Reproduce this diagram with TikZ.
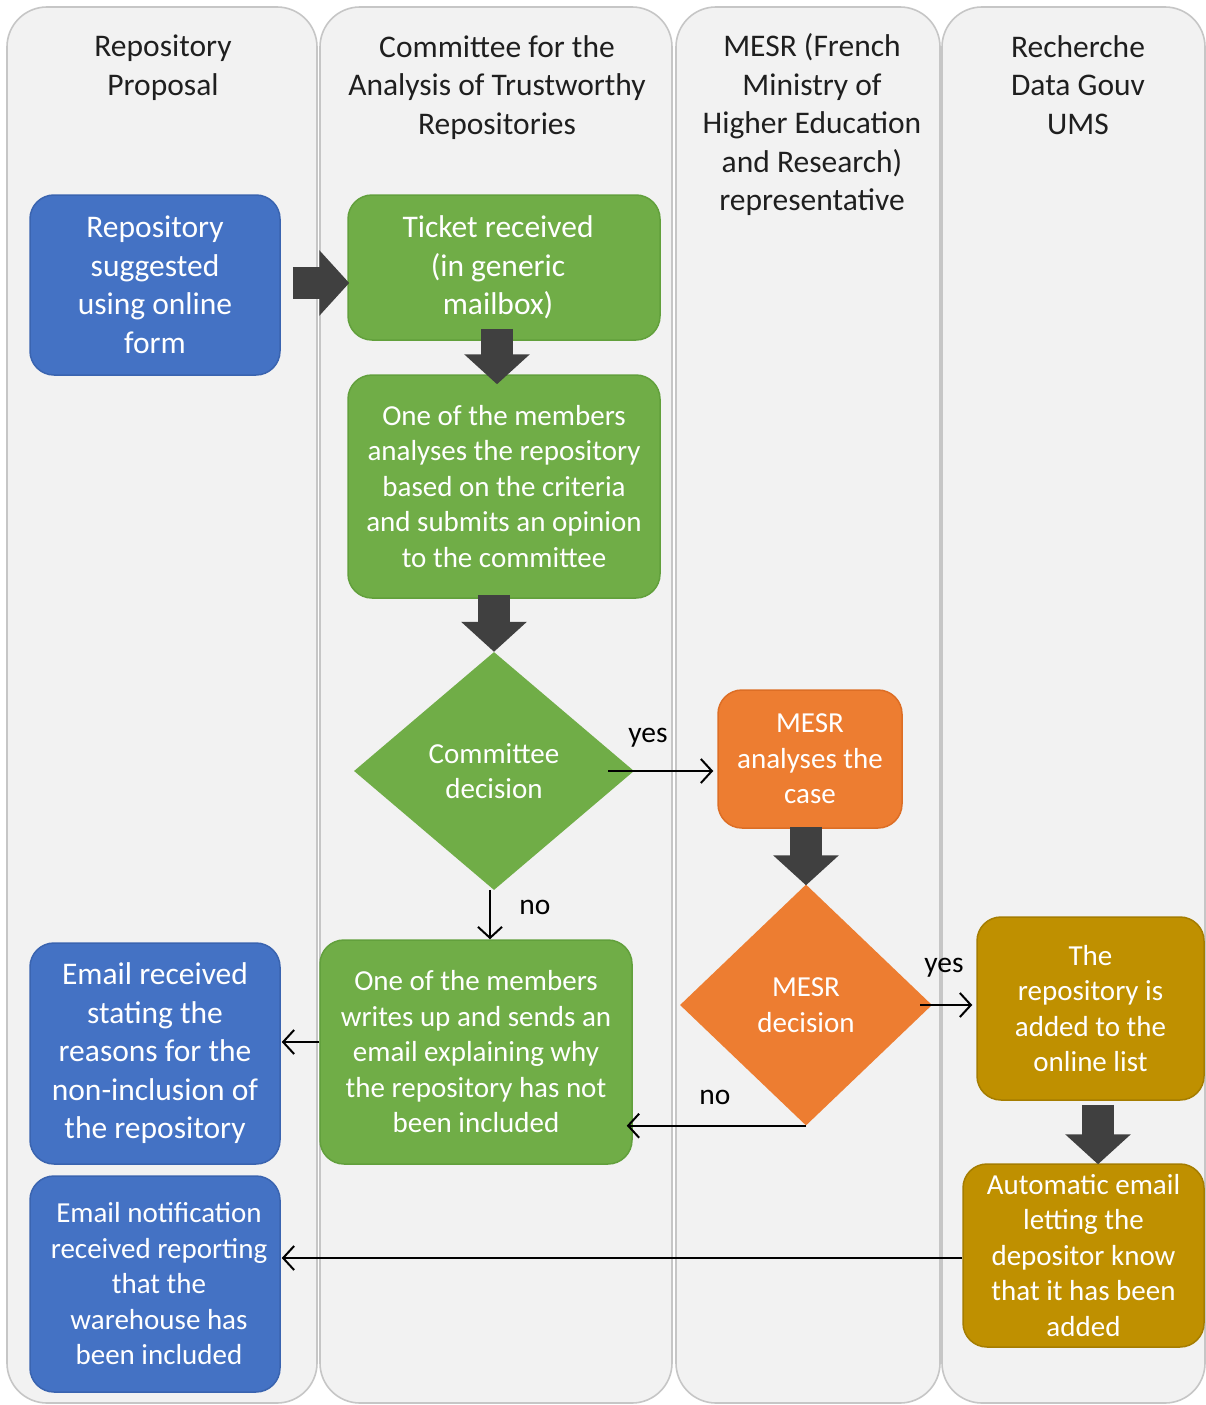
\documentclass[tikz,border=0pt]{standalone}
\usepackage{fontspec}
\setmainfont{Carlito}
\usetikzlibrary{shapes.geometric,arrows.meta,calc}
\definecolor{lanefill}{HTML}{F2F2F2}
\definecolor{laneline}{HTML}{C6C6C6}
\definecolor{bluef}{HTML}{4472C4}
\definecolor{bluel}{HTML}{3A64B0}
\definecolor{greenf}{HTML}{70AD47}
\definecolor{greenl}{HTML}{62A03C}
\definecolor{orangef}{HTML}{ED7D31}
\definecolor{orangel}{HTML}{DD6E25}
\definecolor{goldf}{HTML}{BF9000}
\definecolor{goldl}{HTML}{A57D00}
\definecolor{bigarrow}{HTML}{404040}
\tikzset{
  lane/.style={fill=lanefill, draw=laneline, line width=1.6pt, rounded corners=40pt},
  hdr/.style={align=center, font=\fontsize{31.5}{38.5}\selectfont, text=black!88, inner sep=0pt},
  box/.style={rounded corners=24pt, line width=1.5pt, align=center, text=white, inner sep=0pt, font=\fontsize{29}{35.5}\selectfont},
  bigtext/.style={font=\fontsize{31.5}{38.5}\selectfont},
  bluebox/.style={box, fill=bluef, draw=bluel},
  greenbox/.style={box, fill=greenf, draw=greenl},
  orangebox/.style={box, fill=orangef, draw=orangel},
  goldbox/.style={box, fill=goldf, draw=goldl},
  dia/.style={diamond, inner sep=0pt, align=center, text=white, font=\fontsize{29}{35.5}\selectfont},
  fatarrow/.style={draw=bigarrow, line width=32pt, -{Triangle[width=64pt,length=30pt]}},
  thinarrow/.style={draw=black, line width=2pt, -{Straight Barb[length=11pt,width=24pt,line width=2pt]}},
  lbl/.style={font=\fontsize{29.5}{35}\selectfont, text=black, inner sep=0pt}
}
\begin{document}
\begin{tikzpicture}[x=1pt,y=-1pt]
\useasboundingbox (0,0) rectangle (1206,1405);
\fill[white] (0,0) rectangle (1206,1405);
% lanes
\path[lane] (7,7) rectangle (317,1403);
\path[lane] (320,7) rectangle (672,1403);
\path[lane] (676,7) rectangle (940,1403);
\path[lane] (942,7) rectangle (1205,1403);
% headers
\node[hdr] (h1) at (163,67.5) {Repository\\Proposal};
\node[hdr] (h2) at (497,87.5) {Committee for the\\Analysis of Trustworthy\\Repositories};
\node[hdr] (h3) at (812,125) {MESR (French\\Ministry of\\Higher Education\\and Research)\\representative};
\node[hdr] (h4) at (1078,85) {Recherche\\Data Gouv\\UMS};
% boxes
\node[bluebox, bigtext, minimum width=250pt, minimum height=180pt] (blue1) at (155,285) {Repository\\suggested\\using online\\form};
\node[greenbox, bigtext, minimum width=312pt, minimum height=145pt] (green1) at (504,267.5) {\hspace*{-12pt}Ticket received\\\hspace*{-12pt}(in generic\\\hspace*{-12pt}mailbox)};
\node[greenbox, minimum width=312pt, minimum height=223pt] (green2) at (504,486.5) {One of the members\\analyses the repository\\based on the criteria\\and submits an opinion\\to the committee};
\node[dia, fill=greenf, minimum width=280pt, minimum height=238pt] (dec1) at (494,771) {Committee\\decision};
\node[orangebox, minimum width=184pt, minimum height=138pt] (orange1) at (810,759) {MESR\\analyses the\\case};
\node[dia, fill=orangef, minimum width=252pt, minimum height=241pt] (dec2) at (806,1005) {MESR\\decision};
\node[goldbox, minimum width=227pt, minimum height=183pt] (gold1) at (1090.5,1008.5) {The\\repository is\\added to the\\online list};
\node[goldbox, minimum width=241pt, minimum height=183pt] (gold2) at (1083.5,1255.5) {Automatic email\\letting the\\depositor know\\that it has been\\added};
\node[greenbox, minimum width=312pt, minimum height=224pt] (green3) at (476,1052) {One of the members\\writes up and sends an\\email explaining why\\the repository has not\\been included};
\node[bluebox, bigtext, minimum width=250pt, minimum height=221pt] (blue2) at (155,1053.5) {Email received\\stating the\\reasons for the\\non-inclusion of\\the repository};
\node[bluebox, minimum width=250pt, minimum height=216pt] (blue3) at (155,1284) {\hspace*{8pt}Email notification\\\hspace*{8pt}received reporting\\\hspace*{8pt}that the\\\hspace*{8pt}warehouse has\\\hspace*{8pt}been included};
% fat arrows
\draw[fatarrow] ($(blue1.east)+(12,-2)$) -- ($(green1.west |- blue1.east)+(2,-2)$);
\draw[fatarrow] ($(green1.south)+(-7,-12)$) -- ($(green2.north)+(-7,10)$);
\draw[fatarrow] ($(green2.south)+(-10,-4)$) -- (dec1.north);
\draw[fatarrow] ($(orange1.south)+(-4,-2)$) -- ($(dec2.north)+(0,1)$);
\draw[fatarrow] ($(gold1.south)+(7.5,4)$) -- ($(gold2.north)+(14.5,1)$);
% thin arrows
\draw[thinarrow] ($(dec1.east)+(-26,0)$) -- ($(orange1.west |- dec1.east)+(-4,0)$);
\node[lbl] (yes1) at (648,738) {yes};
\draw[thinarrow] ($(dec1.south)+(-4,0)$) -- ($(green3.north -| dec1.south)+(-4,0)$);
\node[lbl] (no1) at (535,907) {no};
\draw[thinarrow] ($(dec2.east)+(-12,0)$) -- ($(gold1.west |- dec2.east)+(-4,0)$);
\node[lbl] (yes2) at (944,968) {yes};
\draw[thinarrow] (dec2.south) -- ($(green3.east |- dec2.south)+(-6,0)$);
\node[lbl] (no2) at (715,1097) {no};
\draw[thinarrow] ($(green3.west)+(0,-10)$) -- ($(blue2.east |- green3.west)+(1,-10)$);
\draw[thinarrow] ($(gold2.west)+(0,2.5)$) -- ($(blue3.east |- gold2.west)+(1,2.5)$);
\end{tikzpicture}
\end{document}
